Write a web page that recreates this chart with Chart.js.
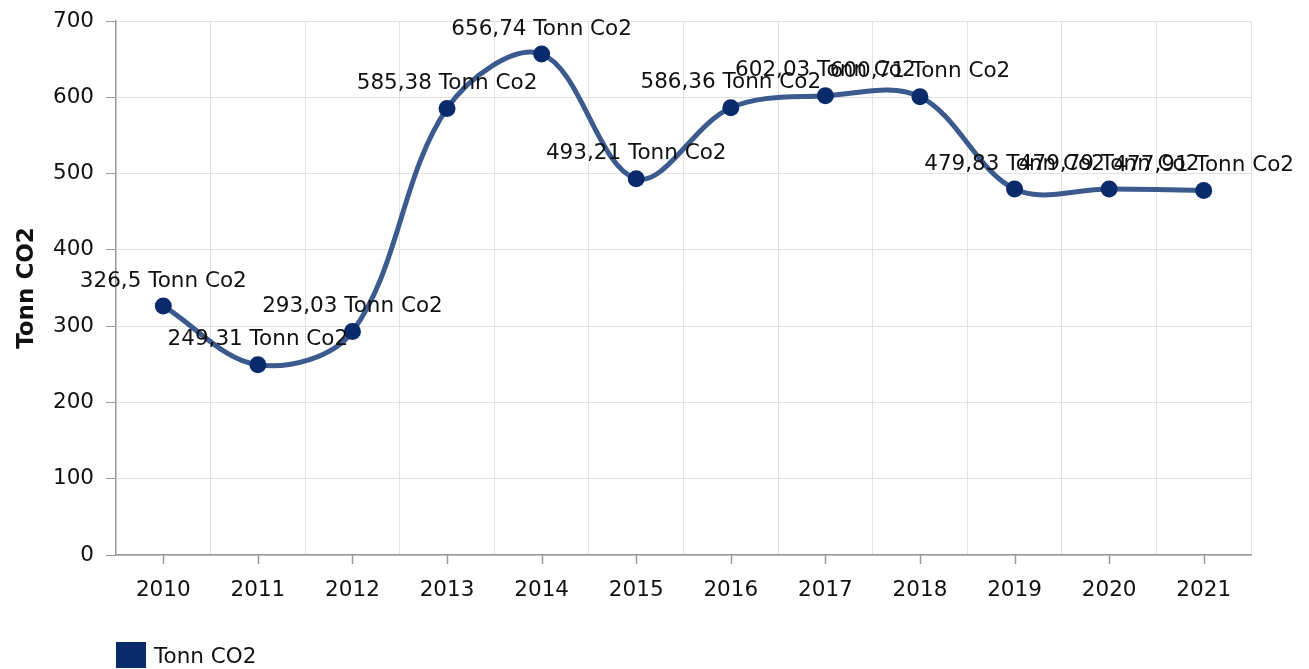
<!DOCTYPE html>
<html>
<head>
<meta charset="utf-8">
<script src="https://cdn.jsdelivr.net/npm/chart.js@4"></script>
<style>
  body { margin: 0; background: #fff; font-family: "DejaVu Sans", sans-serif; }
  #wrap { position: relative; width: 1309px; height: 669px; }
  #legend { position: absolute; left: 116px; top: 642px; display: flex; align-items: center; font-size: 21.5px; color: #111; }
  #legend span.box { width: 30px; height: 26px; background: #0a2b6b; margin-right: 8px; display: inline-block; }
</style>
</head>
<body>
<div id="wrap">
  <canvas id="chart" width="1309" height="669"></canvas>
  <div id="legend"></div>
</div>
<script>
// Daten
const years = ['2010', '2011', '2012', '2013', '2014', '2015', '2016', '2017', '2018', '2019', '2020', '2021'];
const tonnCo2 = [326.5, 249.31, 293.03, 585.38, 656.74, 493.21, 586.36, 602.03, 600.71, 479.83, 479.79, 477.91];
const seriesName = 'Tonn CO2';
const labelSuffix = ' Tonn Co2';

const FONT = '"DejaVu Sans", sans-serif';
const FONT_SIZE = 21.5;

// Wert mit Komma formatieren
function formatValue(v) {
    return String(v).replace('.', ',') + labelSuffix;
}

// Beschriftung über jedem Punkt
const pointLabels = {
    id: 'pointLabels',
    afterDatasetsDraw(chart) {
        const ctx = chart.ctx;
        const meta = chart.getDatasetMeta(0);
        ctx.save();
        ctx.font = FONT_SIZE + 'px ' + FONT;
        ctx.fillStyle = '#111';
        ctx.textAlign = 'center';
        ctx.textBaseline = 'middle';
        meta.data.forEach((pt, i) => {
            ctx.fillText(formatValue(tonnCo2[i]), pt.x, pt.y - 25);
        });
        ctx.restore();
    }
};

// Kleine Striche unter der x-Achse bei jeder Kategorie
const xTickMarks = {
    id: 'xTickMarks',
    afterDraw(chart) {
        const ctx = chart.ctx;
        const x = chart.scales.x;
        const bottom = chart.chartArea.bottom;
        ctx.save();
        ctx.strokeStyle = '#999';
        ctx.lineWidth = 1.5;
        years.forEach((_, i) => {
            const px = Math.round(x.getPixelForTick(i)) + 0.5;
            ctx.beginPath();
            ctx.moveTo(px, bottom);
            ctx.lineTo(px, bottom + 9);
            ctx.stroke();
        });
        ctx.restore();
    }
};

new Chart(document.getElementById('chart'), {
    type: 'line',
    data: {
        labels: years,
        datasets: [{
            label: seriesName,
            data: tonnCo2,
            borderColor: '#3b5a8e',
            borderWidth: 5,
            tension: 0.35,
            pointRadius: 8.5,
            pointHoverRadius: 8.5,
            pointBackgroundColor: '#0a2b6b',
            pointBorderColor: '#0a2b6b',
            pointBorderWidth: 0
        }]
    },
    options: {
        responsive: false,
        animation: false,
        layout: { padding: { top: 21, right: 58, left: 0, bottom: 0 } },
        plugins: {
            legend: { display: false },
            tooltip: { enabled: false }
        },
        scales: {
            x: {
                offset: true,
                grid: { offset: true, color: '#e2e2e2', lineWidth: 1, drawTicks: false },
                border: { color: '#999', width: 1.5 },
                ticks: { color: '#111', font: { family: FONT, size: FONT_SIZE }, padding: 23, maxRotation: 0 },
                afterFit(scale) { scale.height = 114; }
            },
            y: {
                min: 0,
                max: 700,
                grid: { color: '#e2e2e2', lineWidth: 1, tickLength: 10, tickColor: '#999' },
                border: { color: '#999', width: 1.5 },
                ticks: { stepSize: 100, color: '#111', font: { family: FONT, size: FONT_SIZE }, padding: 12 },
                title: {
                    display: true, text: seriesName, color: '#111',
                    font: { family: FONT, size: 23, weight: 'bold' },
                    padding: { top: 13, bottom: 0 }
                },
                afterFit(scale) {
                    scale.width = 116;
                    scale.paddingTop = 0;
                    scale.paddingBottom = 0;
                }
            }
        }
    },
    plugins: [pointLabels, xTickMarks]
});

// Legende als HTML
document.getElementById('legend').innerHTML = '<span class="box"></span>' + seriesName;
</script>
</body>
</html>
